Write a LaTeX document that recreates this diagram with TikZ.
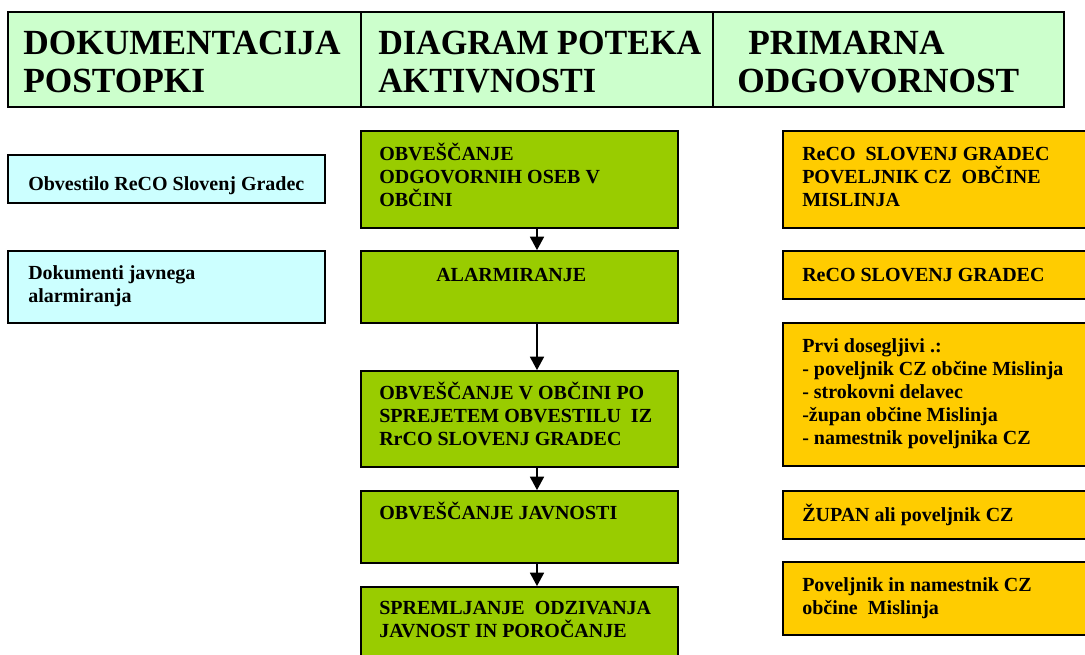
\documentclass[tikz,border=0pt]{standalone}
\usepackage{fontspec}
\usepackage{graphicx}
\setmainfont{Liberation Serif}
\usetikzlibrary{fit,arrows.meta}
\definecolor{headgreen}{HTML}{CCFFCC}
\definecolor{docblue}{HTML}{CCFFFF}
\definecolor{actgreen}{HTML}{99CC00}
\definecolor{respyellow}{HTML}{FFCC00}
\tikzset{
  hbox/.style={draw=black, line width=1.5pt, fill=headgreen, inner sep=0pt},
  bbox/.style={draw=black, line width=1.4pt, fill=docblue, inner sep=0pt},
  gbox/.style={draw=black, line width=1.4pt, fill=actgreen, inner sep=0pt},
  obox/.style={draw=black, line width=1.4pt, fill=respyellow, inner sep=0pt},
  htxt/.style={anchor=base west, inner sep=0pt, font=\fontsize{26.5}{29}\selectfont\bfseries},
  btxt/.style={anchor=base west, inner sep=0pt, font=\fontsize{15}{17.3}\selectfont\bfseries},
  arr/.style={line width=1.1pt, -{Triangle[width=10.5pt,length=10pt]}},
}
\newcommand{\lines}[1]{\parbox[t]{12cm}{\raggedright #1}}
\begin{document}
\begin{tikzpicture}[x=0.75pt,y=-0.75pt]
\useasboundingbox (0,0) rectangle (1085,654);
\clip (0,0) rectangle (1085,654);
% header
\node[hbox, fit={(8,12) (361,107)}] (h1) {};
\node[hbox, fit={(361,12) (713,107)}] (h2) {};
\node[hbox, fit={(713,12) (1064,107)}] (h3) {};
\node[htxt] (h1t) at (23,54) {\lines{DOKUMENTACIJA\\POSTOPKI}};
\node[htxt] (h2t) at (378,54) {\scalebox{0.965}[1]{\lines{DIAGRAM POTEKA\\AKTIVNOSTI}}};
\node[htxt] (h3t) at (737,54) {\lines{\hspace*{8.25pt}PRIMARNA\\ODGOVORNOST}};
% documentation column
\node[bbox, fit={(8,155) (325,203)}] (b1) {};
\node[bbox, fit={(8,251) (325,323)}] (b2) {};
\node[btxt] (b1t) at (28,190) {\lines{Obvestilo ReCO Slovenj Gradec}};
\node[btxt] (b2t) at (28,279) {\lines{Dokumenti javnega\\alarmiranja}};
% activity column
\node[gbox, fit={(361,131) (678,228)}] (g1) {};
\node[gbox, fit={(361,251) (678,323)}] (g2) {};
\node[gbox, fit={(361,371) (678,467)}] (g3) {};
\node[gbox, fit={(361,491) (678,563)}] (g4) {};
\node[gbox, fit={(361,587) (678,680)}] (g5) {};
\node[btxt] (g1t) at (379,160) {\lines{OBVEŠČANJE\\ODGOVORNIH OSEB V\\OBČINI}};
\node[btxt] (g2t) at (436,281) {\lines{ALARMIRANJE}};
\node[btxt] (g3t) at (379,399) {\lines{OBVEŠČANJE V OBČINI PO\\SPREJETEM OBVESTILU\ \ IZ\\RrCO SLOVENJ GRADEC}};
\node[btxt] (g4t) at (379,519) {\lines{OBVEŠČANJE JAVNOSTI}};
\node[btxt] (g5t) at (379,614) {\lines{SPREMLJANJE\ \ ODZIVANJA\\JAVNOST IN POROČANJE}};
\coordinate (ax) at (537,0);
\draw[arr] (g1.south -| ax) -- (g2.north -| ax);
\draw[arr] (g2.south -| ax) -- (g3.north -| ax);
\draw[arr] (g3.south -| ax) -- (g4.north -| ax);
\draw[arr] (g4.south -| ax) -- (g5.north -| ax);
% responsibility column
\node[obox, fit={(783,131) (1100,228)}] (o1) {};
\node[obox, fit={(783,251) (1100,299)}] (o2) {};
\node[obox, fit={(783,323) (1100,466)}] (o3) {};
\node[obox, fit={(783,491) (1100,539)}] (o4) {};
\node[obox, fit={(783,562) (1100,635)}] (o5) {};
\node[btxt] (o1t) at (802,160) {\lines{ReCO\ \ SLOVENJ GRADEC\\POVELJNIK CZ\ \ OBČINE\\MISLINJA}};
\node[btxt] (o2t) at (802,281) {\lines{ReCO SLOVENJ GRADEC}};
\node[btxt] (o3t) at (802,352) {\lines{Prvi dosegljivi .:\\- poveljnik CZ občine Mislinja\\- strokovni delavec\\-župan občine Mislinja\\- namestnik poveljnika CZ}};
\node[btxt] (o4t) at (802,521) {\lines{ŽUPAN ali poveljnik CZ}};
\node[btxt] (o5t) at (802,591) {\lines{Poveljnik in namestnik CZ\\občine\ \ Mislinja}};
\end{tikzpicture}
\end{document}
